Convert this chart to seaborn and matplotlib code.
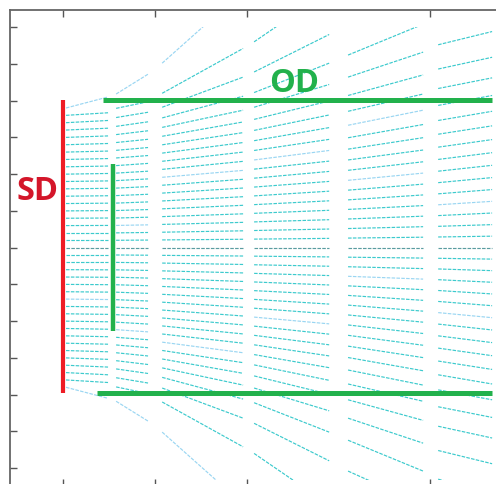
import numpy as np
import pandas as pd
import matplotlib
matplotlib.use("Agg")
import matplotlib.pyplot as plt
from matplotlib.patches import Rectangle
import seaborn as sns

# ---------------- data ----------------
# column windows (x start / x end) in which the field lines are drawn
col_names = ["A", "B", "C", "D", "E", "F"]
col_x0 = [0.16, 2.89, 5.40, 10.41, 15.53, 20.44]
col_x1 = [2.45, 4.63, 9.81, 14.50, 19.62, 23.38]

# line index k = 1..19 above the centre line (mirrored below); values = y at window start / end
A_start = [1, 2, 3, 4, 5, 6, 7, 8, 9, 10, 11, 12, 13, 14, 15, 16, 17, 18, 19]
A_end = [1.0, 2.0, 3.02, 4.03, 5.04, 6.05, 7.06, 8.07, 9.08, 10.09, 11.1, 12.12, 13.14, 14.17, 15.2, 16.25, 17.3, 18.35, 20.5]
B_start = [1.0, 2.01, 3.02, 4.03, 5.05, 6.06, 7.08, 8.1, 9.12, 10.14, 11.16, 12.2, 13.24, 14.3, 15.38, 16.5, 17.7, 18.95, 20.9]
B_end = [1.03, 2.06, 3.1, 4.14, 5.18, 6.22, 7.26, 8.3, 9.35, 10.4, 11.46, 12.53, 13.62, 14.74, 15.9, 17.12, 18.42, 19.85, 23.6]
C_start = [1.05, 2.1, 3.16, 4.22, 5.28, 6.35, 7.42, 8.49, 9.57, 10.65, 11.75, 12.86, 13.99, 15.15, 16.36, 17.65, 19.1, 21.0, 25.1]
C_end = [1.14, 2.29, 3.44, 4.6, 5.76, 6.93, 8.11, 9.3, 10.51, 11.74, 13.0, 14.3, 15.65, 17.1, 18.7, 20.6, 23.2, 27.1, 34.9]
D_start = [1.16, 2.33, 3.5, 4.67, 5.85, 7.04, 8.24, 9.45, 10.68, 11.93, 13.22, 14.55, 15.95, 17.45, 19.1, 21.1, 23.9, 28.0, 37.0]
D_end = [1.26, 2.53, 3.8, 5.08, 6.37, 7.68, 9.01, 10.37, 11.77, 13.22, 14.73, 16.33, 18.05, 19.95, 22.2, 25.1, 29.0, 35.0, 45.0]
E_start = [1.3, 2.6, 3.9, 5.2, 6.5, 7.82, 9.16, 10.52, 11.93, 13.4, 14.95, 16.65, 18.55, 20.7, 23.2, 26.2, 30.4, 36.0, 47.0]
E_end = [1.42, 2.85, 4.28, 5.72, 7.17, 8.64, 10.14, 11.68, 13.28, 14.96, 16.75, 18.7, 20.9, 23.5, 26.6, 30.4, 35.0, 41.0, 53.0]
F_start = [1.45, 2.9, 4.36, 5.83, 7.32, 8.84, 10.4, 12.0, 13.67, 15.43, 17.3, 19.35, 21.65, 24.3, 27.6, 31.5, 36.5, 43.0, 55.0]
F_end = [1.56, 3.13, 4.71, 6.3, 7.9, 9.53, 11.2, 12.92, 14.7, 16.57, 18.55, 20.7, 23.1, 25.9, 29.4, 33.5, 39.0, 46.0, 59.0]

starts = [A_start, B_start, C_start, D_start, E_start, F_start]
ends = [A_end, B_end, C_end, D_end, E_end, F_end]

# segments drawn in the lighter blue tone: (column, signed line index)
light_segments = [("A", 19), ("B", 19), ("C", 19), ("A", -19), ("B", -19), ("C", -19),
                  ("B", 3), ("C", 9), ("D", 10), ("E", 7), ("F", 4), ("A", -7),
                  ("C", -12), ("D", -8), ("E", -3), ("F", -6), ("B", -11), ("E", 12)]

# electrodes
sd_x = 0.0
sd_y = (-19.8, 20.1)
od_top_y = 20.1
od_top_x = (2.18, 23.38)
od_bot_y = -19.84
od_bot_x = (1.85, 23.38)
od_vert_x = 2.71
od_vert_y = (-11.4, 11.35)

x_ticks = [0, 5, 10, 20]
y_ticks = list(range(-30, 31, 5))
clip_y = (-31.6, 30.0)

# ---------------- build table ----------------
rows = []
seg = 0
for ci, name in enumerate(col_names):
    x0, x1 = col_x0[ci], col_x1[ci]
    rows.append((seg, x0, 0.0, "centre")); rows.append((seg, x1, 0.0, "centre")); seg += 1
    for k in range(1, 20):
        for sgn in (1, -1):
            tone = "light" if (name, sgn * k) in light_segments else "main"
            rows.append((seg, x0, sgn * starts[ci][k - 1], tone))
            rows.append((seg, x1, sgn * ends[ci][k - 1], tone))
            seg += 1
df = pd.DataFrame(rows, columns=["seg", "x", "y", "tone"])

# ---------------- figure ----------------
sns.set_theme(style="ticks")
W, H = 496, 484
fig = plt.figure(figsize=(W / 100, H / 100), dpi=100)
xlim = (-2.92, 24.5)
ylim = (-32.4, 32.4)
px_x, px_y = 18.35, 7.35
aw = (xlim[1] - xlim[0]) * px_x
ah = (ylim[1] - ylim[0]) * px_y
ax = fig.add_axes([9.5 / W, 1 - 9.5 / H - ah / H, aw / W, ah / H])

palette = {"main": "#3ccacd", "light": "#9ad6f2", "centre": "#5a9ca0"}
sns.lineplot(data=df, x="x", y="y", units="seg", hue="tone", palette=palette,
             estimator=None, sort=False, legend=False, ax=ax, linewidth=0.85)

clip_rect = Rectangle((xlim[0] - 5, clip_y[0]), 60, clip_y[1] - clip_y[0],
                      transform=ax.transData, facecolor="none", edgecolor="none")
ax.add_patch(clip_rect)
for ln in ax.lines:
    ln.set_dashes((3.0, 1.1))
    ln.set_clip_path(clip_rect)

green = "#22b14c"
ax.plot([sd_x, sd_x], list(sd_y), color="#ee1c25", lw=3.0, solid_capstyle="butt", zorder=5)
ax.plot(list(od_top_x), [od_top_y, od_top_y], color=green, lw=3.6, solid_capstyle="butt", zorder=5)
ax.plot(list(od_bot_x), [od_bot_y, od_bot_y], color=green, lw=3.6, solid_capstyle="butt", zorder=5)
ax.plot([od_vert_x, od_vert_x], list(od_vert_y), color=green, lw=3.2, solid_capstyle="butt", zorder=5)

ax.text(-1.42, 7.58, "SD", color="#d4162a", fontsize=23.5, fontweight="bold",
        family=["Open Sans", "DejaVu Sans"], ha="center", va="center", zorder=6)
ax.text(12.59, 22.27, "OD", color=green, fontsize=23.5, fontweight="bold",
        family=["Open Sans", "DejaVu Sans"], ha="center", va="center", zorder=6)

ax.set_xlim(*xlim)
ax.set_ylim(*ylim)
ax.set_xticks(x_ticks)
ax.set_yticks(y_ticks)
ax.set_xlabel("")
ax.set_ylabel("")
ax.tick_params(direction="in", length=5, width=1.0, color="#555555",
               top=True, bottom=True, left=True, right=False,
               labelleft=False, labelbottom=False, labeltop=False)
for side in ["left", "top", "bottom", "right"]:
    ax.spines[side].set_color("#666666")
    ax.spines[side].set_linewidth(1.3)
ax.set_facecolor("white")
fig.patch.set_facecolor("white")

fig.savefig("out.png", dpi=100)
